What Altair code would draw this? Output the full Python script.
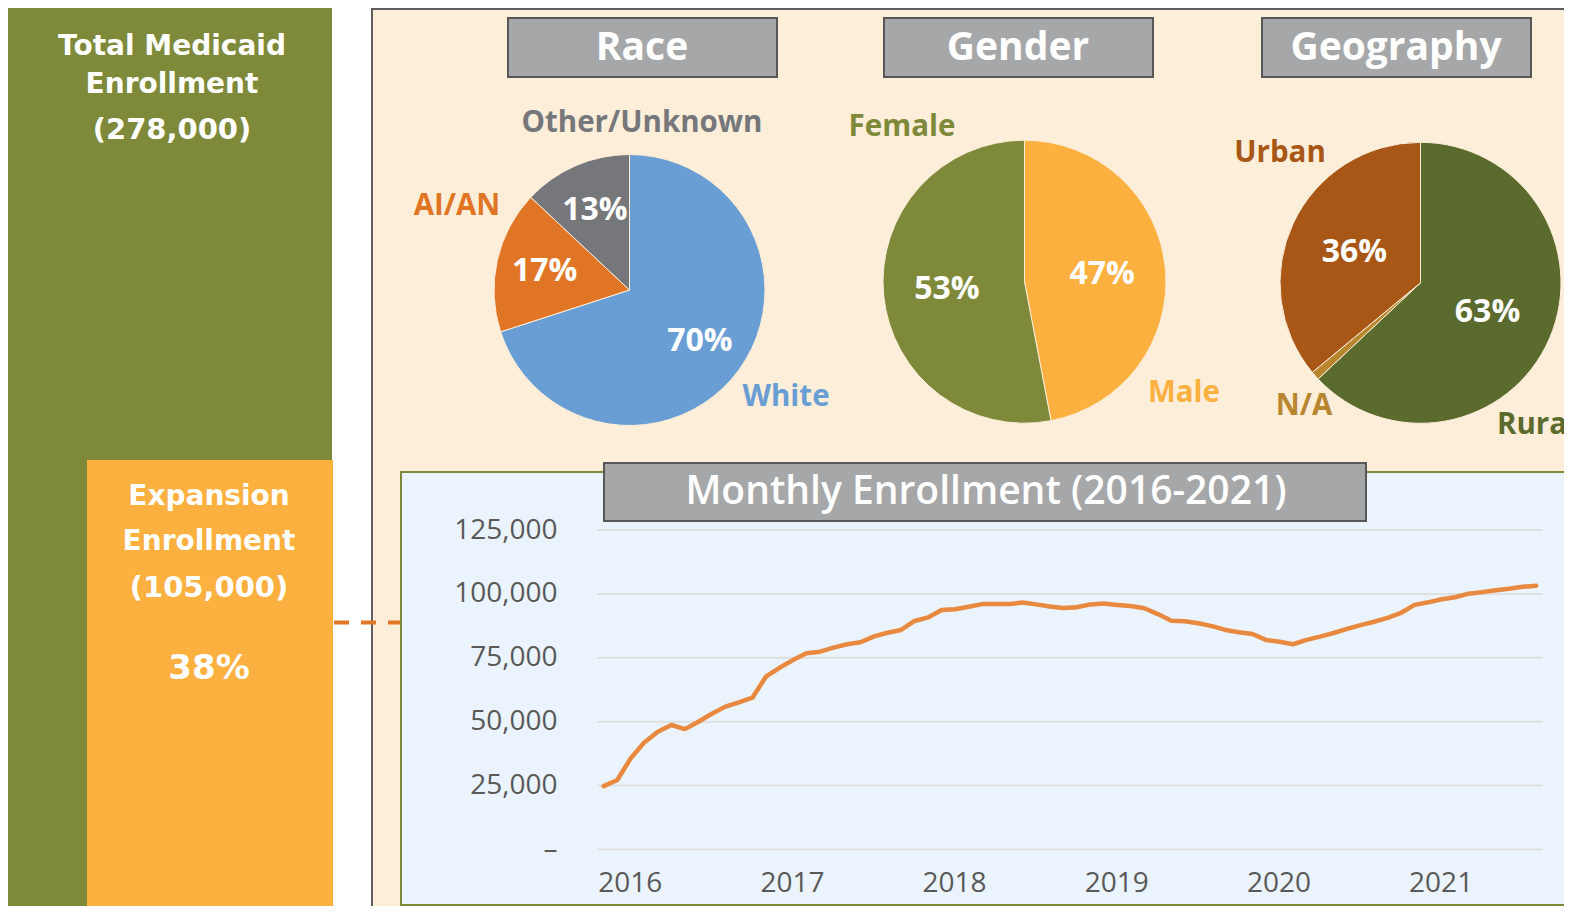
import altair as alt
import pandas as pd

# ---------------- data ----------------
race_cats = ["White", "AI/AN", "Other/Unknown"]
race_pct = [70, 17, 13]
gender_cats = ["Male", "Female"]
gender_pct = [47, 53]
geo_cats = ["Rural", "N/A", "Urban"]
geo_pct = [63, 1, 36]

months = pd.date_range("2016-01-01", periods=70, freq="MS").strftime("%Y-%m").tolist()
enrollment = [24800, 27200, 35700, 41900, 46100, 48700, 47100, 50000, 53100, 55900,
              57600, 59400, 67600, 71100, 74100, 76800, 77400, 79000, 80300, 81100,
              83400, 84800, 85900, 89400, 90800, 93700, 94000, 95000, 96000, 96000,
              96000, 96600, 95900, 95100, 94500, 94800, 95900, 96200, 95700, 95300,
              94400, 92100, 89500, 89300, 88500, 87400, 85900, 85000, 84300, 82000,
              81300, 80300, 82000, 83300, 84700, 86300, 87800, 89100, 90600, 92600,
              95700, 96700, 97900, 98700, 100100, 100700, 101400, 102000, 102800, 103200]
grid_values = [0, 25000, 50000, 75000, 100000, 125000]
year_ticks = [0, 12, 24, 36, 48, 60]   # month index of each January

total_label = "(278,000)"
expansion_label = "(105,000)"
expansion_share = "38%"

# ---------------- styling ----------------
W, H = 1556, 898
OFF = 8
FONT = "Open Sans"
SIDE_FONT = "DejaVu Sans"
WHITE = "#FFFFFF"
GREEN = "#7E8A3A"
ORANGE = "#FBB040"
BEIGE = "#FDEEDA"
BLUE_BG = "#EBF3FC"
BOX_GRAY = "#A6A7A9"
DARK = "#575757"

cat_domain = race_cats + gender_cats + geo_cats
cat_range = ["#699ED4", "#E07526", "#76777A", ORANGE, GREEN, "#5B6A2D", "#B8862F", "#A85716"]
cscale = alt.Scale(domain=cat_domain, range=cat_range)

ONE = pd.DataFrame({"k": [0]})


def px(v):
    return v - OFF


def rect(x0, y0, x1, y1, fill, stroke=None, sw=0):
    kw = dict(fill=fill)
    if stroke:
        kw.update(stroke=stroke, strokeWidth=sw)
    return alt.Chart(ONE).mark_rect(**kw).encode(
        x=alt.value(px(x0)), x2=alt.value(px(x1)),
        y=alt.value(px(y0)), y2=alt.value(px(y1)))


def text(s, x, y, size, color, weight="bold", align="center", font=FONT):
    return alt.Chart(ONE).mark_text(
        text=s, font=font, fontSize=size, fontWeight=weight, color=color,
        align=align, baseline="middle").encode(x=alt.value(px(x)), y=alt.value(px(y)))


def pie(cats, pcts, cx, cy, r, label_r):
    df = pd.DataFrame({"category": cats, "pct": pcts, "rank": list(range(len(cats)))})
    base = alt.Chart(df).encode(
        theta=alt.Theta("pct:Q", stack=True),
        order=alt.Order("rank:Q"),
        x=alt.value(px(cx)), y=alt.value(px(cy)))
    arc = base.mark_arc(radius=r, stroke=BEIGE, strokeWidth=1).encode(
        color=alt.Color("category:N", scale=cscale, legend=None))
    lab = base.transform_calculate(
        label="datum.pct >= 2 ? datum.pct + '%' : ''"
    ).mark_text(
        radius=label_r, font=FONT, fontSize=32, fontWeight="bold", color=WHITE,
        align="center", baseline="middle").encode(text="label:N")
    return [arc, lab]


layers = []
# left bars
layers.append(rect(8, 8, 332, 920, GREEN))
layers.append(rect(87, 460, 333, 920, ORANGE))
layers += [
    text("Total Medicaid", 172, 47, 28, WHITE, font=SIDE_FONT),
    text("Enrollment", 172, 85, 28, WHITE, font=SIDE_FONT),
    text(total_label, 172, 130, 29, WHITE, font=SIDE_FONT),
    text("Expansion", 209, 497, 28, WHITE, font=SIDE_FONT),
    text("Enrollment", 209, 542, 28, WHITE, font=SIDE_FONT),
    text(expansion_label, 209, 588, 29, WHITE, font=SIDE_FONT),
    text(expansion_share, 209, 669, 34, WHITE, font=SIDE_FONT),
]
# beige panel
layers.append(rect(372, 9, 1580, 930, BEIGE, "#5E5E5E", 2))
# dashed connector
layers.append(alt.Chart(ONE).mark_rule(color="#E07828", strokeWidth=4, strokeDash=[15, 12]).encode(
    x=alt.value(px(334)), x2=alt.value(px(401)), y=alt.value(px(622.5))))

# title boxes
for (x0, x1, label, tx) in [(508, 777, "Race", 642), (884, 1153, "Gender", 1018), (1262, 1531, "Geography", 1396)]:
    layers.append(rect(x0, 18, x1, 77, BOX_GRAY, DARK, 2))
    layers.append(text(label, tx, 48, 39, WHITE, "bold"))

# pies
layers += pie(race_cats, race_pct, 629.5, 290, 135.5, 87)
layers += pie(gender_cats, gender_pct, 1024.5, 281.7, 141.5, 78)
layers += pie(geo_cats, geo_pct, 1420.5, 282.8, 140.5, 73)

# outside pie labels
layers += [
    text("Other/Unknown", 642, 123, 29.5, "#76777A"),
    text("AI/AN", 457, 206, 29.5, "#E07526"),
    text("White", 786, 397, 29.5, "#699ED4"),
    text("Female", 902, 127, 29.5, GREEN),
    text("Male", 1184, 393, 29.5, ORANGE),
    text("Urban", 1280, 153, 29.5, "#A85716"),
    text("N/A", 1304, 406, 29.5, "#B8862F"),
    text("Rural", 1497, 425, 29.5, "#5B6A2D", align="left"),
]

# line chart panel
layers.append(rect(404, 476, 1572, 910, "#C9C1B5"))
layers.append(rect(401, 472, 1568, 905, BLUE_BG, GREEN, 2))
layers.append(rect(604, 463, 1366, 521, BOX_GRAY, DARK, 2))
layers.append(text("Monthly Enrollment (2016-2021)", 986, 492, 39, WHITE, 600))

xscale = alt.Scale(domain=[-0.5, 69.5], range=[px(597), px(1543)], nice=False, zero=False)
yscale = alt.Scale(domain=[0, 125000], range=[px(849.5), px(530)], nice=False, zero=False)

AX_COMMON = dict(domain=False, ticks=False, tickSize=0, grid=False, labelFont=FONT,
                 labelFontSize=28, labelColor="#595959", zindex=2, title="")
yaxis = alt.Axis(orient="left", offset=-px(557), values=grid_values, labelPadding=0,
                 labelExpr="datum.value == 0 ? '\u2013\u00a0\u00a0' : datum.label", **AX_COMMON)
xaxis = alt.Axis(orient="bottom", offset=-(H - px(849.5)), values=year_ticks, labelPadding=42,
                 labelBaseline="alphabetic", labelAlign="center", labelOffset=26,
                 labelExpr="'' + (2016 + floor(datum.value / 12))", **AX_COMMON)

grid_df = pd.DataFrame({"v": grid_values})
layers.append(alt.Chart(grid_df).mark_rule(color="#DEDFE0", strokeWidth=2).encode(
    y=alt.Y("v:Q", scale=yscale, axis=yaxis),
    x=alt.value(px(597)), x2=alt.value(px(1543))))

line_df = pd.DataFrame({"idx": list(range(len(enrollment))), "month": months, "enrollment": enrollment})
layers.append(alt.Chart(line_df).mark_line(color="#E8893F", strokeWidth=4.5, strokeJoin="round",
                                           strokeCap="round").encode(
    x=alt.X("idx:Q", scale=xscale, axis=xaxis),
    y=alt.Y("enrollment:Q", scale=yscale, axis=yaxis)))

chart = alt.layer(*layers).properties(
    width=W, height=H, padding=0,
    autosize=alt.AutoSizeParams(type="none"),
    background="white",
).configure_view(strokeWidth=0)

chart.save("out.html", embed_options={"renderer": "svg", "actions": False})
